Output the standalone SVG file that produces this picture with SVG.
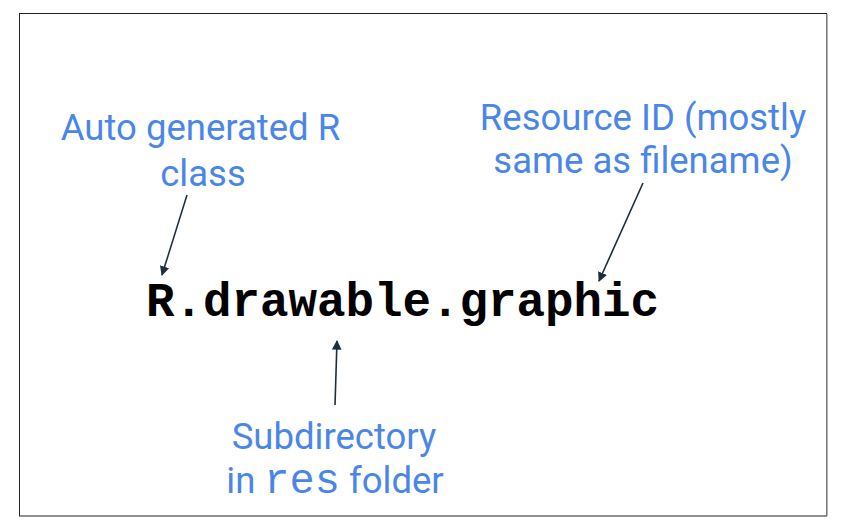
<svg xmlns="http://www.w3.org/2000/svg" width="848" height="530" viewBox="0 0 848 530">
<defs>
<style>
.lbl{font-family:Roboto,"Liberation Sans",sans-serif;font-size:36.5px;fill:#4a86e8;text-anchor:middle}
.mono{font-family:"Liberation Mono","Courier New",monospace;font-size:42px}
.code{font-family:"Liberation Mono","Courier New",monospace;font-weight:bold;font-size:47.5px;fill:#000}
.arr{stroke:#1b2f3d;stroke-width:1.6;fill:none;marker-end:url(#ah)}
</style>
<marker id="ah" viewBox="0 0 10 10" refX="9" refY="5" markerWidth="6" markerHeight="6" orient="auto" markerUnits="strokeWidth">
<path d="M0,0 L10,5 L0,10 z" fill="#1b2f3d"/>
</marker>
</defs>
<rect width="848" height="530" fill="#fff"/>
<rect x="19.5" y="13.5" width="807" height="502.5" fill="#fff" stroke="#222" stroke-width="1"/>
<line x1="827" y1="14" x2="827" y2="516" stroke="#999" stroke-width="1.5"/>
<g id="code">
<text class="code" x="146" y="316">R.drawable.graphic</text>
</g>
<g id="auto">
<text class="lbl" x="200.5" y="140">Auto generated R</text>
<text class="lbl" x="203" y="186">class</text>
</g>
<g id="resource">
<text class="lbl" x="643" y="130">Resource ID (mostly</text>
<text class="lbl" x="643" y="173">same as filename)</text>
</g>
<g id="subdir">
<text class="lbl" x="334" y="449">Subdirectory</text>
<text class="lbl" x="335" y="493">in <tspan class="mono">res</tspan> folder</text>
</g>
<g id="connectors">
<line class="arr" x1="187" y1="195" x2="162" y2="275"/>
<line class="arr" x1="643" y1="183" x2="599" y2="281"/>
<line class="arr" x1="335" y1="405" x2="337" y2="341"/>
</g>
</svg>
